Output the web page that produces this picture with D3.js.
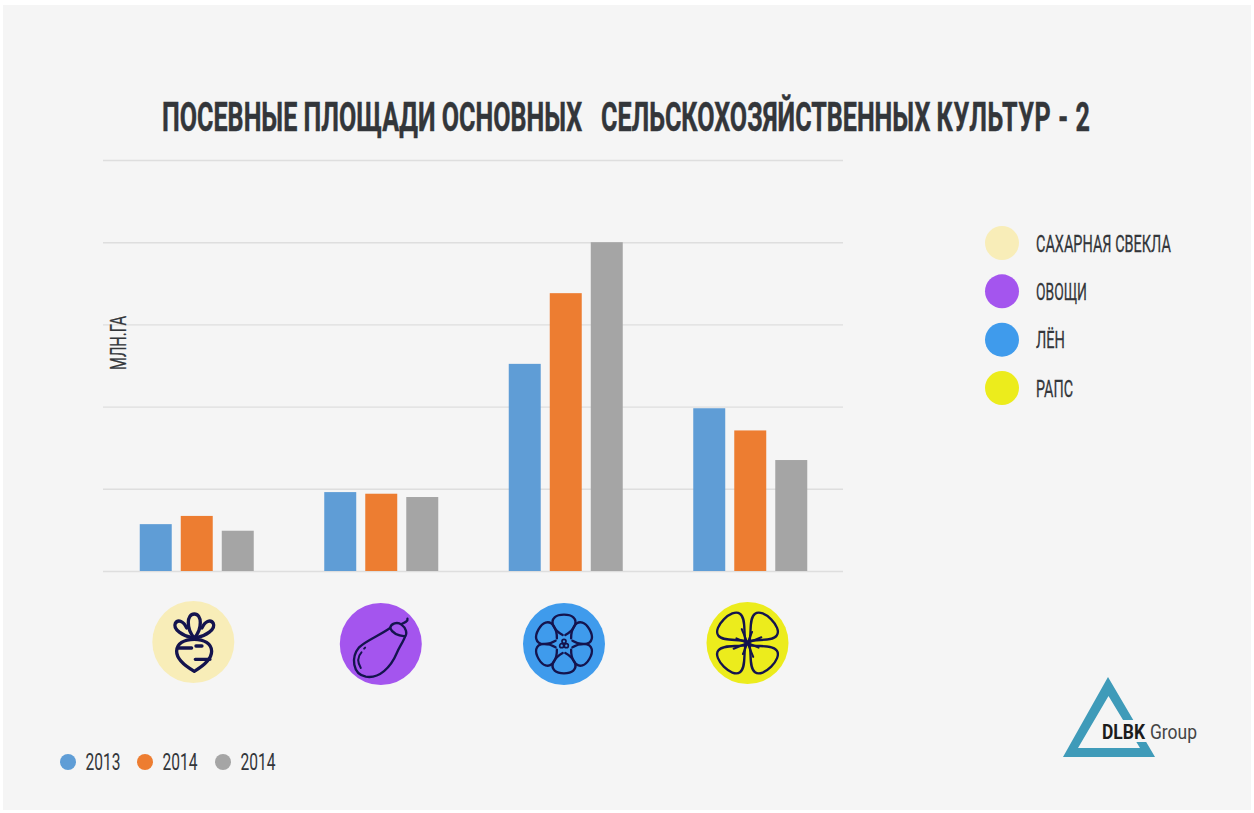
<!DOCTYPE html>
<html><head><meta charset="utf-8">
<script src="https://cdn.jsdelivr.net/npm/d3@7"></script>
<style>
html,body{margin:0;padding:0;background:#fff;overflow:hidden}
svg{display:block}
text{font-family:"Liberation Sans Narrow",Roboto,sans-serif;fill:#33363a;white-space:pre}
</style></head><body>
<svg id="c" width="1254" height="813"></svg>
<script>
const titleHead = "ПОСЕВНЫЕ ПЛОЩАДИ ОСНОВНЫХ   СЕЛЬСКОХОЗЯЙСТВЕННЫХ ";
const titleTail = "КУЛЬТУР - 2";
const yLabel = "МЛН.ГА";
const categories = ["САХАРНАЯ СВЕКЛА", "ОВОЩИ", "ЛЁН", "РАПС"];
const categoryColors = ["#f8edb8", "#a455ee", "#3f9bec", "#ecec1c"];
const seriesNames = ["2013", "2014", "2014 "];
const seriesColors = ["#5f9dd6", "#ed7d31", "#a5a5a5"];
const series2013 = [0.57, 0.96, 2.52, 1.98];
const series2014 = [0.67, 0.94, 3.38, 1.71];
const series2014b = [0.49, 0.90, 4.00, 1.35];
const gridTicks = [0, 1, 2, 3, 4, 5];

const svg = d3.select("#c");
svg.append("rect").attr("x",3).attr("y",5).attr("width",1248).attr("height",805).attr("fill","#f5f5f5");

const y = d3.scaleLinear().domain([0,5]).range([571,160]);
const x0 = d3.scaleBand().domain(categories).range([104.5,842.5]);
const x1 = d3.scaleBand().domain(seriesNames).range([-57,57]).paddingInner(0.22);

// draws text squeezed horizontally to a measured width, to stand in for the narrow display face
function fit(g, str, px, py, size, width, weight){
  const t = g.append("text").attr("font-size",size).attr("font-weight",weight||400).text(str);
  squeeze(t, px, py, width);
  return t;
}
function squeeze(t, px, py, width){
  const natural = t.node().getComputedTextLength();
  t.attr("transform",`translate(${px},${py}) scale(${width/natural},1)`);
}

const titleText = svg.append("text").attr("font-size",41).attr("font-weight",700)
  .attr("stroke","#33363a").attr("stroke-width",0.5);
titleText.append("tspan").text(titleHead);
titleText.append("tspan").style("letter-spacing","1px").text(titleTail);
squeeze(titleText, 162, 131, 929);

svg.append("g").selectAll("line").data(gridTicks).join("line")
  .attr("x1",103).attr("x2",843).attr("y1",d=>y(d)+.5).attr("y2",d=>y(d)+.5)
  .attr("stroke","#dedede").attr("stroke-width",1.4);

const allSeries = [series2013, series2014, series2014b];
const groups = svg.append("g").selectAll("g").data(categories).join("g")
  .attr("transform",c=>`translate(${x0(c)+x0.bandwidth()/2},0)`);
groups.selectAll("rect").data((c,i)=>allSeries.map((s,k)=>({k,v:s[i]}))).join("rect")
  .attr("x",d=>x1(seriesNames[d.k])).attr("width",x1.bandwidth())
  .attr("y",d=>y(d.v)).attr("height",d=>y(0)-y(d.v))
  .attr("fill",d=>seriesColors[d.k]);

const yl = svg.append("g").attr("transform","translate(126,370) rotate(-90)");
fit(yl, yLabel, 0, 0, 22, 54).attr("stroke","#33363a").attr("stroke-width",0.25);

// category legend
const legY = d3.scalePoint().domain(categories).range([243,388]);
const legW = [135,51,29,37];
categories.forEach((c,i)=>{
  svg.append("circle").attr("cx",1002).attr("cy",legY(c)).attr("r",17).attr("fill",categoryColors[i]);
  fit(svg, c, 1036, legY(c)+8.5, 23, legW[i]).attr("stroke","#33363a").attr("stroke-width",0.3);
});

// series legend
const serX = [68,145,223];
seriesNames.forEach((s,i)=>{
  svg.append("circle").attr("cx",serX[i]).attr("cy",762).attr("r",8).attr("fill",seriesColors[i]);
  fit(svg, s.trim(), serX[i]+17.5, 770, 23, 35);
});

// icons
const iconDx = [-3.45,-0.45,-1.75,-2.75];
const iconDy = [642,644,644,643];
const stroke = "#14144e";
categories.forEach((c,i)=>{
  const cx = x0(c)+x0.bandwidth()/2+iconDx[i], cy = iconDy[i];
  svg.append("circle").attr("cx",cx).attr("cy",cy).attr("r",41).attr("fill",categoryColors[i]);
  const g = svg.append("g").attr("transform",`translate(${cx},${cy}) scale(${1/3})`)
    .attr("fill","none").attr("stroke",stroke).attr("stroke-width",7).attr("stroke-linecap","round").attr("stroke-linejoin","round");
  if(i===0){
    g.attr("stroke-width",10);
    g.append("path").attr("d","M3,-8 C-28,-8 -50,5 -50,28 C-50,50 -25,72 3,88 C30,72 55,50 55,28 C55,5 32,-8 3,-8 Z");
    g.append("path").attr("d","M-45,18 L-5,18 M8,12 L26,12 M50,52 L6,52");
    g.append("path").attr("d","M3,-12 C-22,-40 -20,-84 3,-84 C26,-84 28,-40 3,-12 Z");
    g.append("path").attr("d","M-6,-14 C-30,-18 -62,-38 -54,-56 C-46,-70 -28,-62 -20,-42");
    g.append("path").attr("d","M12,-14 C36,-18 68,-38 60,-56 C52,-70 34,-62 26,-42");
  } else if(i===1){
    g.append("path").attr("d","M28,-48 C-5,-25 -45,-10 -65,10 C-90,40 -85,90 -45,98 C-5,105 30,70 48,27 C56,8 68,-8 73,-23");
    g.append("path").attr("d","M28,-48 C30,-62 50,-68 62,-58 C76,-48 80,-32 73,-23 C55,-25 35,-30 28,-48 Z");
    g.append("path").attr("d","M62,-60 C72,-64 82,-68 80,-76");
    g.append("path").attr("d","M-58,25 C-70,38 -70,55 -60,72").attr("stroke-width",6);
    g.append("path").attr("d","M-50,14 L-47,11").attr("stroke-width",6);
  } else if(i===2){
    d3.range(6).forEach(k=>{
      g.append("path").attr("transform",`rotate(${k*60})`)
       .attr("d","M-4,-27 C-28,-40 -44,-65 -28,-80 C-16,-91 16,-91 28,-80 C44,-65 28,-40 4,-27");
    });
    [[0,-8],[-7,5],[7,5]].forEach(p=>g.append("circle").attr("cx",p[0]).attr("cy",p[1]).attr("r",6).attr("stroke-width",5));
  } else {
    [45,135,225,315].forEach(a=>{
      g.append("path").attr("transform",`rotate(${a})`)
       .attr("d","M0,-8 C-12,-30 -50,-55 -46,-78 C-42,-108 42,-108 46,-78 C50,-55 12,-30 0,-8");
    });
    d3.range(8).forEach(k=>{
      g.append("line").attr("transform",`rotate(${k*45+22.5})`).attr("y1",-8).attr("y2",k%2?-45:-36).attr("stroke-width",6);
    });
    g.append("circle").attr("r",8).attr("fill",stroke).attr("stroke","none");
  }
});

// logo
svg.append("path").attr("fill-rule","evenodd").attr("fill","#3f9bb9")
  .attr("d","M1108,677 L1155,757 L1063,757 Z M1108.5,696 L1078,748 L1140,748 Z");
svg.append("rect").attr("x",1100).attr("y",720).attr("width",49).attr("height",22).attr("fill","#f5f5f5");
fit(svg,"DLBK",1102,738.5,20,43,700).style("fill","#1c1c1c");
fit(svg,"Group",1150,738.5,20,47).style("fill","#444");
</script>
</body></html>
